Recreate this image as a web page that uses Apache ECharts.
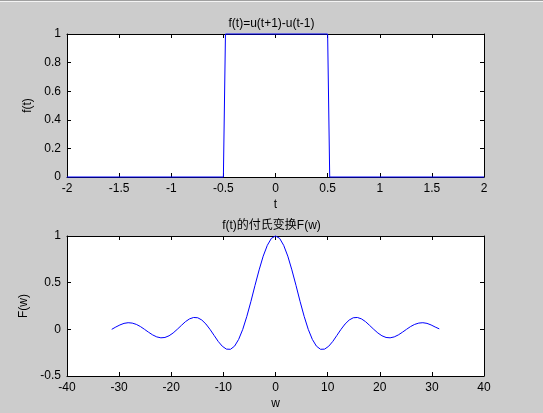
<!DOCTYPE html>
<html>
<head>
<meta charset="utf-8">
<script src="https://cdn.jsdelivr.net/npm/echarts@6/dist/echarts.min.js"></script>
<style>
  html, body { margin: 0; padding: 0; background: #cccccc; }
  #chart { width: 543px; height: 413px; }
</style>
</head>
<body>
<div id="chart"></div>
<script>
// top plot: the pulse
const tVals = [-2, -0.5, -0.48, 0.5, 0.52, 2];
const fVals = [0, 0, 1, 1, 0, 0];

// bottom plot: F(w)
const wVals = [
  -31.42, -30.63, -29.85, -29.06, -28.27, -27.49, -26.70, -25.92, -25.13, -24.35,
  -23.56, -22.78, -21.99, -21.21, -20.42, -19.64, -18.85, -18.06, -17.28, -16.49,
  -15.71, -14.92, -14.14, -13.35, -12.57, -11.78, -11.00, -10.21, -9.42, -8.64,
  -7.85, -7.07, -6.28, -5.50, -4.71, -3.93, -3.14, -2.36, -1.57, -0.79, 0,
  0.79, 1.57, 2.36, 3.14, 3.93, 4.71, 5.50, 6.28, 7.07, 7.85,
  8.64, 9.42, 10.21, 11.00, 11.78, 12.57, 13.35, 14.14, 14.92, 15.71,
  16.49, 17.28, 18.06, 18.85, 19.64, 20.42, 21.21, 21.99, 22.78, 23.56,
  24.35, 25.13, 25.92, 26.70, 27.49, 28.27, 29.06, 29.85, 30.63, 31.42];
const FVals = [
  0, 0.025, 0.047, 0.064, 0.071, 0.067, 0.053, 0.030, 0, -0.031,
  -0.060, -0.081, -0.091, -0.087, -0.069, -0.039, 0, 0.042, 0.082, 0.112,
  0.127, 0.124, 0.100, 0.057, 0, -0.065, -0.129, -0.181, -0.212, -0.214,
  -0.180, -0.108, 0, 0.139, 0.300, 0.471, 0.637, 0.784, 0.900, 0.975, 1,
  0.975, 0.900, 0.784, 0.637, 0.471, 0.300, 0.139, 0, -0.108, -0.180,
  -0.214, -0.212, -0.181, -0.129, -0.065, 0, 0.057, 0.100, 0.124, 0.127,
  0.112, 0.082, 0.042, 0, -0.039, -0.069, -0.087, -0.091, -0.081, -0.060,
  -0.031, 0, 0.030, 0.053, 0.067, 0.071, 0.064, 0.047, 0.025, 0.005];

const font = 'Liberation Sans';
const black = '#000';

function axisBase(extra) {
  return Object.assign({
    type: 'value',
    axisLine: { show: true, onZero: false, lineStyle: { color: black, width: 1 } },
    axisTick: { show: true, inside: true, length: 4, lineStyle: { color: black } },
    axisLabel: { color: black, fontFamily: font, fontSize: 12, margin: 6 },
    splitLine: { show: false },
    nameTextStyle: { color: black, fontFamily: font, fontSize: 12 }
  }, extra);
}
function mirror(extra) {
  // the opposite box edge: ticks, no labels
  return axisBase(Object.assign({ axisLabel: { show: false } }, extra));
}

const chart = echarts.init(document.getElementById('chart'));
chart.setOption({
  backgroundColor: '#cccccc',
  animation: false,
  graphic: [
    { type: 'rect', shape: { x: 0, y: 0, width: 543, height: 1 }, style: { fill: '#a0a0a0' } },
    { type: 'rect', shape: { x: 0, y: 1, width: 543, height: 1 }, style: { fill: '#f4f4f4' } }
  ],
  title: [
    { text: 'f(t)=u(t+1)-u(t-1)', left: 'center', top: 13,
      textStyle: { color: black, fontFamily: font, fontSize: 12, fontWeight: 'normal' } },
    { text: 'f(t)的付氏变换F(w)', left: 'center', top: 215,
      textStyle: { color: black, fontFamily: font + ', Noto Sans CJK SC', fontSize: 12, fontWeight: 'normal' } }
  ],
  grid: [
    { left: 67, top: 34, width: 417, height: 143, backgroundColor: '#fff', show: true, borderWidth: 0 },
    { left: 67, top: 236, width: 417, height: 140, backgroundColor: '#fff', show: true, borderWidth: 0 }
  ],
  xAxis: [
    axisBase({ gridIndex: 0, position: 'bottom', min: -2, max: 2, interval: 0.5,
      name: 't', nameLocation: 'middle', nameGap: 22 }),
    mirror({ gridIndex: 0, position: 'top', min: -2, max: 2, interval: 0.5 }),
    axisBase({ gridIndex: 1, position: 'bottom', min: -40, max: 40, interval: 10,
      name: 'w', nameLocation: 'middle', nameGap: 22 }),
    mirror({ gridIndex: 1, position: 'top', min: -40, max: 40, interval: 10 })
  ],
  yAxis: [
    axisBase({ gridIndex: 0, position: 'left', min: 0, max: 1, interval: 0.2,
      name: 'f(t)', nameLocation: 'middle', nameGap: 30 }),
    mirror({ gridIndex: 0, position: 'right', min: 0, max: 1, interval: 0.2 }),
    axisBase({ gridIndex: 1, position: 'left', min: -0.5, max: 1, interval: 0.5,
      name: 'F(w)', nameLocation: 'middle', nameGap: 34 }),
    mirror({ gridIndex: 1, position: 'right', min: -0.5, max: 1, interval: 0.5 })
  ],
  series: [
    {
      type: 'line', xAxisIndex: 0, yAxisIndex: 0,
      data: tVals.map((t, i) => [t, fVals[i]]),
      showSymbol: false, clip: false,
      lineStyle: { color: '#0000ff', width: 1 }
    },
    {
      type: 'line', xAxisIndex: 2, yAxisIndex: 2,
      data: wVals.map((w, i) => [w, FVals[i]]),
      showSymbol: false, clip: false,
      lineStyle: { color: '#0000ff', width: 1 }
    }
  ]
});
</script>
</body>
</html>
